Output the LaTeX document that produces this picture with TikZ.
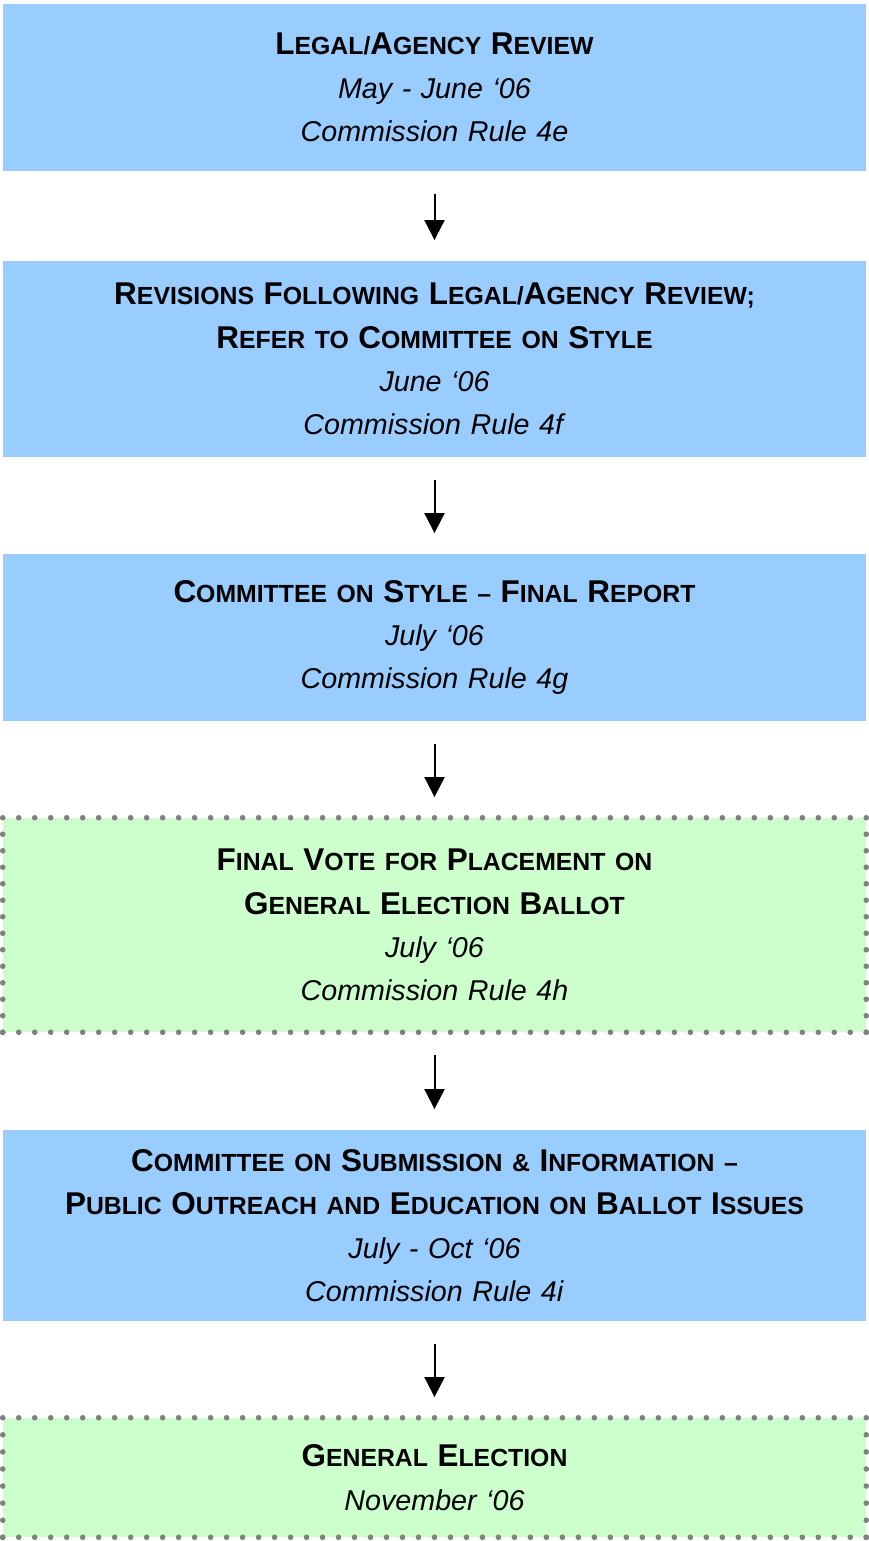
\documentclass[tikz,border=0pt]{standalone}
\usepackage{fontspec}
\setmainfont{Liberation Sans}
\usepackage{xcolor}
\definecolor{STEPcolor}{HTML}{99CCFF}
\definecolor{VOTEcolor}{HTML}{CCFFCC}
\definecolor{DOTcolor}{HTML}{808080}
\usetikzlibrary{arrows.meta, calc}

% big first letter for the fake small caps
\newcommand{\Cap}[1]{{\fontsize{23.6}{33}\selectfont #1}}
\newcommand{\tit}[1]{{\bfseries\fontsize{18.6}{33}\selectfont #1}}

\begin{document}
\begin{tikzpicture}[x=0.75pt, y=-0.75pt]

    \tikzset{%
        stepbox/.style={fill=STEPcolor, inner sep=0pt, text width=863*0.75pt,
                align=center, font=\fontsize{21.5}{32.5}\selectfont},
        votebox/.style={stepbox, fill=VOTEcolor},
        dot/.style={fill=DOTcolor},
        flow/.style={-{Triangle[width=15pt, length=15pt]}, line width=1.5pt,
                shorten <=17pt, shorten >=15.5pt},
    }

    \useasboundingbox (0, 0) rectangle (868, 1541);

    \node [stepbox, minimum height=167*0.75pt] (legal) at (434.5, 87.5) {%
        \tit{\Cap{L}EGAL/\Cap{A}GENCY \Cap{R}EVIEW}\\
        \textit{May - June ‘06}\\
        \textit{Commission Rule 4e}};
    \node [stepbox, minimum height=196*0.75pt] (revisions) at (434.5, 359) {%
        \tit{\Cap{R}EVISIONS \Cap{F}OLLOWING \Cap{L}EGAL/\Cap{A}GENCY \Cap{R}EVIEW;}\\
        \tit{\Cap{R}EFER TO \Cap{C}OMMITTEE ON \Cap{S}TYLE}\\
        \textit{June ‘06}\\
        \textit{Commission Rule 4f}};
    \node [stepbox, minimum height=167*0.75pt] (style) at (434.5, 637.5) {%
        \tit{\Cap{C}OMMITTEE ON \Cap{S}TYLE -- \Cap{F}INAL \Cap{R}EPORT}\\
        \textit{July ‘06}\\
        \textit{Commission Rule 4g}};
    \node [votebox, minimum height=214*0.75pt] (vote) at (434.5, 925) {%
        \tit{\Cap{F}INAL \Cap{V}OTE FOR \Cap{P}LACEMENT ON}\\
        \tit{\Cap{G}ENERAL \Cap{E}LECTION \Cap{B}ALLOT}\\
        \textit{July ‘06}\\
        \textit{Commission Rule 4h}};
    \node [stepbox, minimum height=191*0.75pt] (outreach) at (434.5, 1225.5) {%
        \tit{\Cap{C}OMMITTEE ON \Cap{S}UBMISSION \& \Cap{I}NFORMATION --}\\
        \tit{\Cap{P}UBLIC \Cap{O}UTREACH AND \Cap{E}DUCATION ON \Cap{B}ALLOT \Cap{I}SSUES}\\
        \textit{July - Oct ‘06}\\
        \textit{Commission Rule 4i}};
    \node [votebox, minimum height=119*0.75pt] (election) at (434.5, 1477.5) {%
        \tit{\Cap{G}ENERAL \Cap{E}LECTION}\\
        \textit{November ‘06}};

    % dotted frames of the two ballot steps
    \foreach \frm/\nh/\nv in {vote/54/13, election/54/7} {%
            \foreach \i in {0, ..., \nh} {%
                    \fill [dot] ($(\frm.north west)!\i/\nh!(\frm.north east)$) circle (2.8);
                    \fill [dot] ($(\frm.south west)!\i/\nh!(\frm.south east)$) circle (2.8);
                }
            \foreach \i in {1, ..., \nv} {%
                    \fill [dot] ($(\frm.north west)!\i/\nv!(\frm.south west)$) circle (2.8);
                    \fill [dot] ($(\frm.north east)!\i/\nv!(\frm.south east)$) circle (2.8);
                }
        }

    \draw [flow] (legal) -- (revisions);
    \draw [flow] (revisions) -- (style);
    \draw [flow] (style) -- (vote);
    \draw [flow] (vote) -- (outreach);
    \draw [flow] (outreach) -- (election);

\end{tikzpicture}
\end{document}
